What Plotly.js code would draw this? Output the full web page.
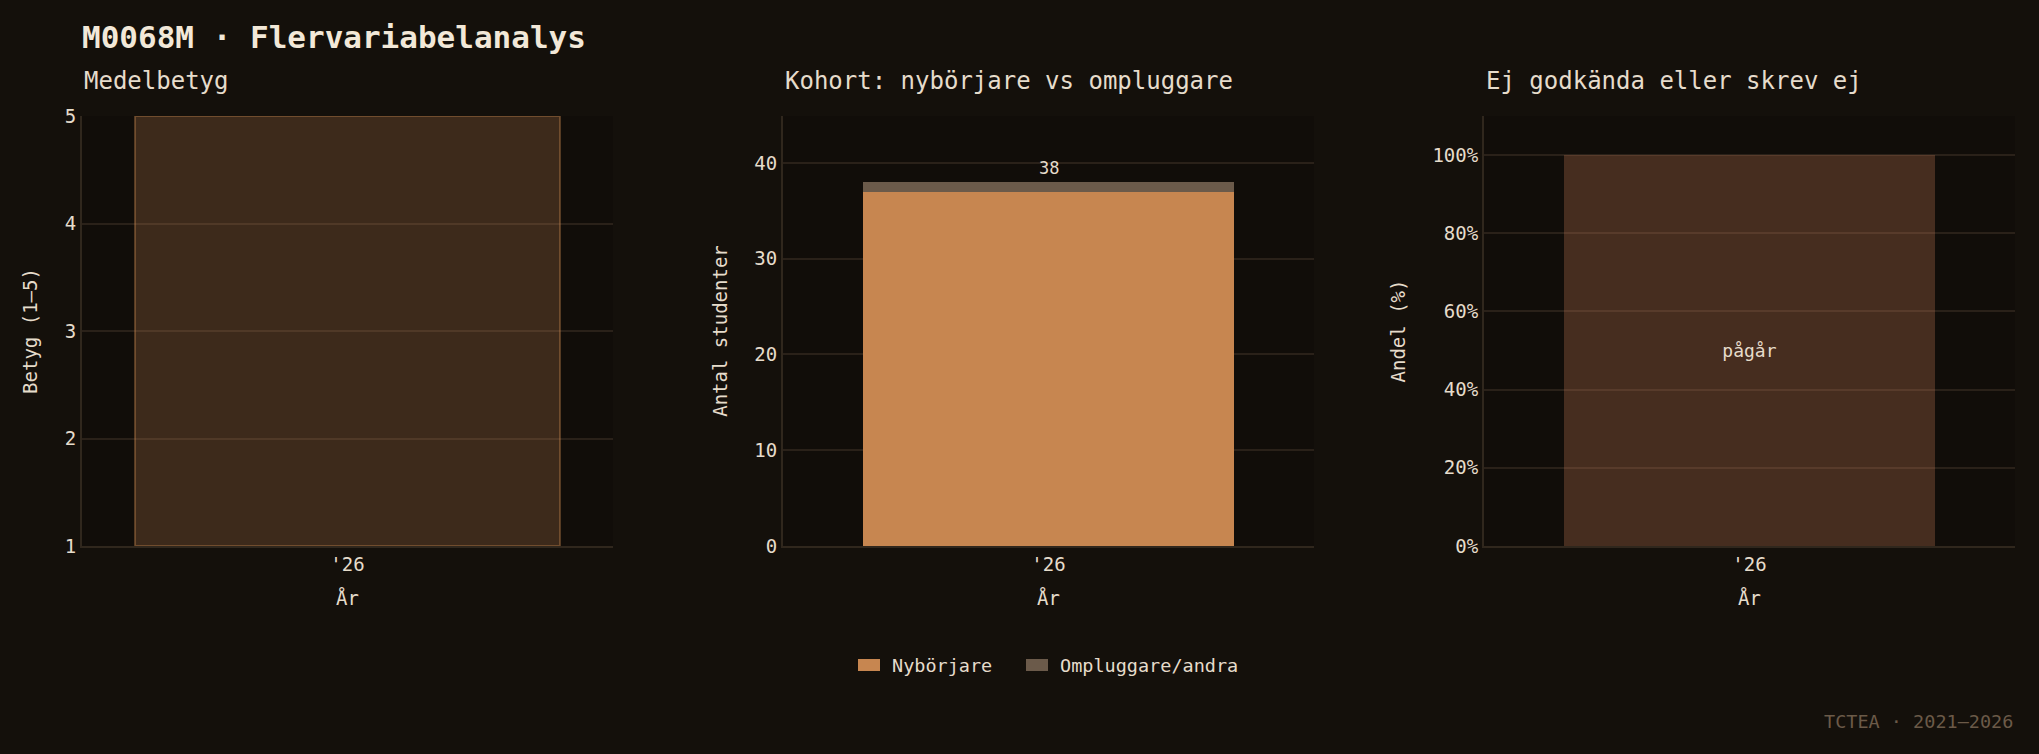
<!DOCTYPE html>
<html>
<head>
<meta charset="utf-8">
<script src="https://cdn.plot.ly/plotly-3.0.1.min.js"></script>
<style>
html,body{margin:0;padding:0;background:#14100b;}
#chart{width:2039px;height:754px;}
</style>
</head>
<body>
<div id="chart"></div>
<script>
// ---- data ----
const years = ["'26"];
const meanGrade = [5];
const newcomers = [37];
const retakers = [1];
const failShare = [1.0];
const failLabels = ["pågår"];
const seriesNames = ["Nybörjare", "Ompluggare/andra"];
const seriesColors = ["#c78650", "#6b5a4a"];
const totals = years.map((_, i) => newcomers[i] + retakers[i]);

const FONT = "DejaVu Sans Mono, monospace";
const TXT = "#e6dccb";
const GRID = "#2a2119";
const LINE = "#30271d";

const W = 2039, H = 754, ML = 82, MR = 24, MT = 116, MB = 208;
const PW = W - ML - MR, PH = H - MT - MB;
const px2x = p => (p - ML) / PW;
const py2y = p => (H - MB - p) / PH;

const traces = [
  {
    type: "bar", x: years, y: meanGrade.map(v => v - 1), base: 1, xaxis: "x", yaxis: "y",
    width: 0.8,
    marker: {color: "rgba(217,145,91,0.22)", line: {color: "rgba(199,134,80,0.38)", width: 1.5}},
    showlegend: false, hoverinfo: "y"
  },
  {
    type: "bar", x: years, y: newcomers, name: seriesNames[0], xaxis: "x2", yaxis: "y2",
    width: 0.7, marker: {color: seriesColors[0]}, showlegend: false
  },
  {
    type: "bar", x: years, y: retakers, name: seriesNames[1], xaxis: "x2", yaxis: "y2",
    width: 0.7, marker: {color: seriesColors[1]}, showlegend: false
  },
  {
    type: "bar", x: years, y: failShare, xaxis: "x3", yaxis: "y3",
    width: 0.7,
    text: failLabels, textposition: "inside", insidetextanchor: "middle",
    textfont: {family: FONT, size: 18, color: TXT},
    marker: {color: "rgba(210,131,88,0.28)"}, showlegend: false
  }
];

function xax(domain, anchor) {
  return {
    domain: domain, anchor: anchor, type: "category",
    showgrid: false, showline: true, linecolor: LINE, linewidth: 2,
    ticks: "", tickfont: {family: FONT, size: 19, color: TXT},
    title: {text: "År", font: {family: FONT, size: 19, color: TXT}, standoff: 18},
    zeroline: false
  };
}
function yax(anchor, extra) {
  return Object.assign({
    anchor: anchor, showgrid: true, gridcolor: GRID, gridwidth: 2,
    showline: true, linecolor: LINE, linewidth: 2, zeroline: false,
    ticks: "", ticklen: 0, tickfont: {family: FONT, size: 19, color: TXT}
  }, extra);
}

// manual legend (wide rectangular swatches)
const legendSwatchX = [858, 1026];
const shapes = [];
const legendAnn = [];
seriesNames.forEach((nm, i) => {
  shapes.push({type: "rect", xref: "paper", yref: "paper",
    x0: px2x(legendSwatchX[i]), x1: px2x(legendSwatchX[i] + 22),
    y0: py2y(671), y1: py2y(659), fillcolor: seriesColors[i], line: {width: 0}});
  legendAnn.push({text: nm, xref: "paper", yref: "paper", x: px2x(legendSwatchX[i] + 32), y: py2y(665),
    xanchor: "left", yanchor: "middle", showarrow: false, font: {family: FONT, size: 18.5, color: TXT}});
});

const subTitleY = py2y(81);
const layout = {
  width: W, height: H,
  paper_bgcolor: "#14100b", plot_bgcolor: "#110d09",
  margin: {l: ML, r: MR, t: MT, b: MB},
  barmode: "stack",
  showlegend: false,
  font: {family: FONT, color: TXT},
  title: {text: "<b>M0068M · Flervariabelanalys</b>", x: ML / W, xanchor: "left", y: 1 - 37 / H, yanchor: "middle",
          font: {family: FONT, size: 31, color: "#f2e8d8"}},
  xaxis: xax([0, px2x(613)], "y"),
  xaxis2: xax([px2x(783), px2x(1314)], "y2"),
  xaxis3: xax([px2x(1484), 1], "y3"),
  yaxis: yax("x", {range: [1, 5], dtick: 1,
    title: {text: "Betyg (1–5)", font: {family: FONT, size: 19, color: TXT}, standoff: 22}}),
  yaxis2: yax("x2", {range: [0, 44.9], dtick: 10,
    title: {text: "Antal studenter", font: {family: FONT, size: 19, color: TXT}, standoff: 22}}),
  yaxis3: yax("x3", {range: [0, 1.1], dtick: 0.2, tickformat: ".0%",
    title: {text: "Andel (%)", font: {family: FONT, size: 19, color: TXT}, standoff: 22}}),
  shapes: shapes,
  annotations: [
    {text: "Medelbetyg", xref: "x domain", yref: "paper", x: 0, y: subTitleY, xanchor: "left", yanchor: "middle",
     showarrow: false, font: {family: FONT, size: 24, color: TXT}},
    {text: "Kohort: nybörjare vs ompluggare", xref: "x2 domain", yref: "paper", x: 0, y: subTitleY, xanchor: "left", yanchor: "middle",
     showarrow: false, font: {family: FONT, size: 24, color: TXT}},
    {text: "Ej godkända eller skrev ej", xref: "x3 domain", yref: "paper", x: 0, y: subTitleY, xanchor: "left", yanchor: "middle",
     showarrow: false, font: {family: FONT, size: 24, color: TXT}},
    ...years.map((yr, i) => ({
      text: String(totals[i]), xref: "x2", yref: "y2", x: yr, y: totals[i], yanchor: "bottom",
      yshift: 2, showarrow: false, font: {family: FONT, size: 17, color: TXT}
    })),
    ...legendAnn,
    {text: "TCTEA · 2021–2026", xref: "paper", yref: "paper", x: 1, y: py2y(721), xanchor: "right", yanchor: "middle",
     showarrow: false, font: {family: FONT, size: 18.5, color: "#6b5a48"}}
  ]
};

Plotly.newPlot("chart", traces, layout, {displayModeBar: false, staticPlot: true});
</script>
</body>
</html>
